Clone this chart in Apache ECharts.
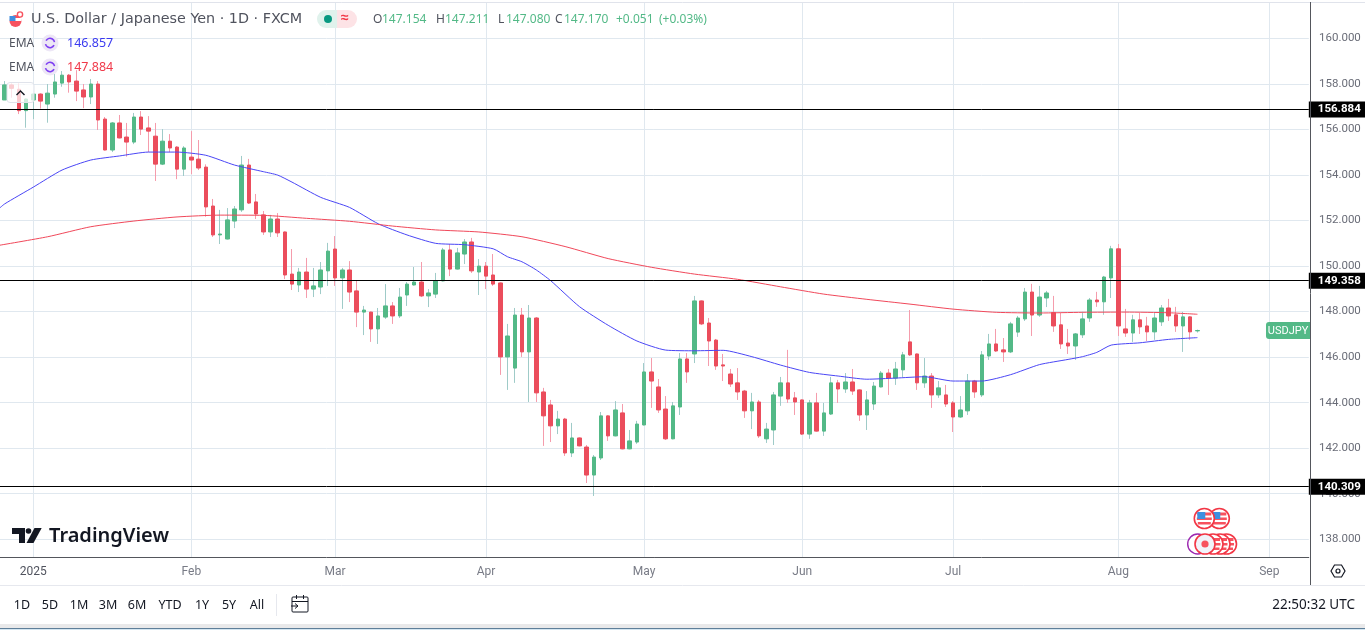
<!DOCTYPE html>
<html><head><meta charset="utf-8">
<style>html,body{margin:0;padding:0;background:#fff}#c{width:1365px;height:630px}</style>
<script src="https://cdn.jsdelivr.net/npm/echarts@6/dist/echarts.min.js"></script>
</head><body><div id="c"></div>
<script>
const categories = ['12-25','12-26','12-27','12-30','12-31',
'01-02','01-03','01-06','01-07','01-08','01-09','01-10','01-13','01-14','01-15','01-16','01-17','01-20','01-21','01-22','01-23','01-24','01-27','01-28','01-29','01-30','01-31',
'02-03','02-04','02-05','02-06','02-07','02-10','02-11','02-12','02-13','02-14','02-17','02-18','02-19','02-20','02-21','02-24','02-25','02-26','02-27','02-28',
'03-03','03-04','03-05','03-06','03-07','03-10','03-11','03-12','03-13','03-14','03-17','03-18','03-19','03-20','03-21','03-24','03-25','03-26','03-27','03-28','03-31',
'04-01','04-02','04-03','04-04','04-07','04-08','04-09','04-10','04-11','04-14','04-15','04-16','04-17','04-18','04-21','04-22','04-23','04-24','04-25','04-28','04-29','04-30',
'05-01','05-02','05-05','05-06','05-07','05-08','05-09','05-12','05-13','05-14','05-15','05-16','05-19','05-20','05-21','05-22','05-23','05-26','05-27','05-28','05-29','05-30',
'06-02','06-03','06-04','06-05','06-06','06-09','06-10','06-11','06-12','06-13','06-16','06-17','06-18','06-19','06-20','06-23','06-24','06-25','06-26','06-27','06-30',
'07-01','07-02','07-03','07-04','07-07','07-08','07-09','07-10','07-11','07-14','07-15','07-16','07-17','07-18','07-21','07-22','07-23','07-24','07-25','07-28','07-29','07-30','07-31',
'08-01','08-04','08-05','08-06','08-07','08-08','08-11','08-12','08-13','08-14','08-15','08-18','08-19','08-20','08-21','08-22','08-25','08-26','08-27','08-28','08-29',
'09-01','09-02','09-03','09-04','09-05','09-08'];
const monthTicks = {'01-02':'2025','02-03':'Feb','03-03':'Mar','04-01':'Apr','05-01':'May','06-02':'Jun','07-01':'Jul','08-01':'Aug','09-01':'Sep'};
const priceTicks = [138,140,142,144,146,148,150,152,154,156,158,160];
const levels = [156.884,149.358,140.309];

const opens = [157.30,157.96,157.77,156.83,157.30,157.56,157.12,157.56,158.04,158.39,
158.13,157.74,157.43,158.00,156.46,155.10,156.29,155.67,155.45,156.55,
156.07,155.71,154.48,155.49,155.23,154.26,154.79,154.70,154.35,152.64,
151.37,151.19,151.98,152.47,154.44,152.82,152.25,151.50,152.07,151.50,
149.65,149.17,149.74,148.99,149.08,149.79,150.75,149.48,149.83,148.91,
147.98,147.98,147.24,147.76,148.25,147.81,148.73,149.17,149.30,148.69,
148.77,149.35,150.71,149.87,150.53,151.06,149.74,150.00,149.61,149.26,
146.01,145.52,147.85,146.23,147.72,144.47,143.90,142.98,143.28,141.79,
142.45,142.05,140.82,141.57,143.42,142.54,143.55,141.97,142.27,143.02,
145.35,144.69,143.72,142.41,143.81,145.92,146.14,148.47,147.50,146.75,
145.66,145.26,144.87,144.51,143.64,144.03,142.41,142.80,144.29,144.87,
144.21,144.12,142.62,143.99,142.75,143.50,144.87,144.60,144.91,144.56,
143.46,143.94,144.69,145.30,145.08,145.44,146.67,146.14,144.87,145.17,
144.34,144.34,143.99,143.37,143.64,144.95,144.34,146.05,146.58,146.32,
146.23,147.10,147.68,148.86,147.85,148.60,147.96,147.42,146.62,146.49,
146.98,147.72,148.51,148.43,149.48,150.76,147.24,147.06,147.64,147.37,
147.11,147.55,148.16,147.86,147.37,147.77,147.154];
const closes = [157.96,157.81,156.83,157.34,157.56,157.25,157.60,158.09,158.39,158.09,
157.69,157.43,158.00,156.42,155.10,156.29,155.63,155.45,156.55,156.02,
155.93,154.48,155.49,155.19,154.26,155.19,154.66,154.31,152.60,151.37,
151.41,152.03,152.51,154.44,152.77,152.29,151.50,152.07,151.46,149.61,
149.21,149.74,148.99,149.13,149.83,150.66,149.48,149.83,148.86,147.98,
148.07,147.24,147.81,148.25,147.81,148.64,149.21,149.30,148.69,148.82,
149.35,150.71,149.87,150.58,151.06,149.79,150.00,149.56,149.21,146.01,
146.93,147.85,146.23,147.72,144.43,143.42,142.98,143.28,141.79,142.45,
142.10,140.82,141.61,143.42,142.54,143.68,141.97,142.32,143.06,145.35,
144.95,143.68,142.41,143.86,145.92,145.35,148.47,147.46,146.71,145.61,
145.61,144.82,144.47,143.64,144.03,142.54,142.84,144.34,144.87,144.16,
144.03,142.62,143.99,142.75,143.55,144.87,144.60,144.91,144.51,143.46,
144.12,144.73,145.30,145.08,145.48,146.10,146.10,144.87,145.17,144.34,
144.65,143.94,143.37,143.68,144.95,144.47,146.10,146.58,146.27,146.23,
147.46,147.72,148.86,147.85,148.64,148.82,147.37,146.58,146.49,147.02,
147.68,148.51,148.43,149.52,150.76,147.37,147.06,147.64,147.33,147.11,
147.72,148.16,147.81,147.37,147.77,147.11,147.170];
const lows = [157.30,157.40,156.68,156.08,156.46,156.92,156.30,157.40,157.88,157.62,
157.25,156.94,157.12,155.98,155.08,155.01,155.61,154.81,155.36,155.76,
155.01,153.74,154.44,155.01,153.82,153.96,154.04,154.22,152.17,151.28,
150.97,151.17,151.67,152.38,152.73,152.07,151.37,151.28,151.28,149.43,
148.95,148.86,148.60,148.64,148.77,149.13,149.13,148.12,148.42,147.32,
146.97,146.67,146.58,147.68,147.46,147.72,148.25,149.15,148.64,148.20,
148.60,149.33,149.56,149.85,150.09,149.70,148.73,148.99,149.13,145.22,
144.56,144.87,146.01,144.03,144.03,142.10,142.27,142.62,141.66,141.61,
142.08,140.47,139.90,141.48,142.32,142.52,141.95,141.95,142.19,143.00,
143.77,143.55,142.36,142.39,143.46,144.87,145.74,147.41,145.61,145.44,
144.95,144.69,144.12,143.33,142.84,142.45,142.23,142.14,143.86,143.99,
143.46,142.58,142.41,142.73,142.54,143.46,143.99,144.43,144.34,143.20,
142.80,143.68,144.67,144.34,144.78,145.13,146.05,144.56,144.65,143.77,
144.21,143.81,142.71,143.33,143.46,144.21,144.25,145.88,146.23,145.79,
146.18,146.89,147.59,146.93,147.77,148.20,147.11,146.36,146.14,145.88,
146.84,147.55,148.21,147.86,148.60,146.93,146.89,146.67,147.02,146.71,
146.76,147.37,147.59,147.11,146.23,146.76,147.080];
const highs = [158.13,158.03,158.03,157.36,157.58,157.59,158.00,158.44,158.57,158.44,
158.61,158.00,158.22,158.13,156.55,156.33,156.64,156.29,156.73,156.81,
156.59,156.29,156.02,155.80,155.27,155.27,155.93,155.54,154.47,152.95,
152.47,152.55,152.64,154.84,154.71,153.17,152.42,152.25,152.33,151.52,
150.75,149.92,150.36,149.92,150.18,151.02,151.32,149.92,150.22,149.35,
148.25,148.00,148.16,149.21,148.42,149.04,149.30,149.96,150.18,148.99,
149.70,150.80,150.97,150.80,151.19,151.24,150.31,150.18,150.53,149.28,
147.46,148.16,148.16,148.29,147.76,144.65,144.12,143.64,143.33,143.11,
142.47,142.14,141.70,143.59,143.44,144.07,143.94,142.80,143.20,145.74,
145.96,145.04,144.29,144.03,146.18,146.18,148.69,148.49,147.72,146.80,
146.14,145.48,145.52,144.56,144.43,144.12,143.11,144.47,145.13,146.32,
144.47,144.14,144.12,144.43,143.99,145.13,145.00,145.30,145.48,144.58,
144.51,144.91,145.39,145.48,145.79,146.23,148.07,146.16,145.96,145.30,
144.95,144.78,144.07,144.29,145.26,145.00,146.27,147.02,147.24,146.84,
147.55,147.81,149.04,149.22,149.13,148.91,148.69,147.94,147.24,147.06,
147.99,148.60,148.87,149.57,150.89,150.97,148.12,147.86,147.94,147.77,
147.94,148.29,148.56,148.21,147.99,147.79,147.211];

const emaFastSlots = [0,1,5,9,13,17,21,25,29,33,37,39,41,45,49,53,57,61,65,69,71,73,75,77,81,85,89,93,97,101,105,109,113,117,121,125,129,133,137,141,145,149,151,153,155,159,163,167];
const emaFastValues = [152.46,152.73,153.47,154.22,154.66,154.84,155.01,155.01,154.87,154.44,154.15,154.00,153.69,153.02,152.58,151.86,151.37,151.00,150.94,150.76,150.41,150.19,149.83,149.36,148.22,147.40,146.71,146.31,146.28,146.30,146.02,145.65,145.33,145.17,145.03,145.08,145.14,144.95,144.95,145.23,145.67,145.90,146.02,146.21,146.53,146.63,146.78,146.857];
const emaSlowSlots = [0,7,13,19,25,31,37,43,49,55,61,67,73,79,85,91,97,103,109,115,121,127,133,139,145,151,157,163,167];
const emaSlowValues = [150.90,151.29,151.73,151.98,152.16,152.24,152.23,152.10,151.97,151.76,151.59,151.50,151.29,150.86,150.33,149.95,149.65,149.42,149.09,148.77,148.54,148.33,148.11,147.97,147.94,147.97,147.98,147.95,147.884];

const UP='#53b987', DOWN='#eb4d5c', UPW='#9fcbc8', DOWNW='#f59cac', GRID='#e0e8ef', AXIS='#54565c';
const FONT='"Noto Sans", sans-serif', AXF='Roboto, sans-serif';
const blank=['-','-','-','-'];
const wickData=[blank].concat(opens.map((o,i)=>[o,closes[i],lows[i],highs[i]]));
const bodyData=[blank].concat(opens.map((o,i)=>[o,closes[i],Math.min(o,closes[i]),Math.max(o,closes[i])]));
const isTick=(i)=>monthTicks[categories[i]]!==undefined;

function t(x,y,text,fill,size,extra){return {type:'text',z:100,x:x,y:y,style:{text:text,fill:fill,font:(extra&&extra.w||'400')+' '+size+'px '+(extra&&extra.f||FONT),textAlign:extra&&extra.a||'left',textVerticalAlign:'middle'}};}
function line(x1,y1,x2,y2,c,w){return {type:'line',z:99,shape:{x1,y1,x2,y2},style:{stroke:c,lineWidth:w||1}};}
function rect(x,y,w,h,fill,r,o){return {type:'rect',z:98,shape:{x,y,width:w,height:h,r:r||0},style:{fill,opacity:o==null?1:o}};}
function flag(cx,cy,z){return [
 {type:'circle',z:z,shape:{cx,cy,r:10},style:{fill:'#fff',stroke:'#f23645',lineWidth:1.6}},
 {type:'rect',z:z,shape:{x:cx-7,y:cy-6,width:14,height:3},style:{fill:'#f7525f'}},
 {type:'rect',z:z,shape:{x:cx-7.5,y:cy-1,width:15,height:2.5},style:{fill:'#f7525f'}},
 {type:'rect',z:z,shape:{x:cx-6.5,y:cy+3.5,width:13,height:2.5},style:{fill:'#f7525f'}},
 {type:'rect',z:z,shape:{x:cx-7,y:cy-6.5,width:8,height:7},style:{fill:'#3d8fe0'}}
];}
function ema(cy){return [
 {type:'circle',z:100,shape:{cx:50,cy,r:8.5},style:{fill:'#ede7f6'}},
 {type:'arc',z:101,shape:{cx:50,cy,r:4.6,startAngle:-2.6,endAngle:-0.2},style:{stroke:'#7e3ff2',fill:'none',lineWidth:1.6}},
 {type:'arc',z:101,shape:{cx:50,cy,r:4.6,startAngle:0.5,endAngle:2.9},style:{stroke:'#7e3ff2',fill:'none',lineWidth:1.6}}
];}

const graphics=[
 line(0,2.5,1365,2.5,'#e0e3eb',1),
 line(1310.5,2,1310.5,585,AXIS,1),
 line(0,585.5,1365,585.5,'#e6e8ee',1),
 rect(0,624,1365,4,'#e9e9ea'),
 rect(0,628,1365,1,'#5f7f99'),
 rect(0,629,1365,1,'#d4e6f1'),
 line(276.5,594,276.5,616,'#e6e8ee',1),
 // header
 {type:'circle',z:100,shape:{cx:15.5,cy:21,r:6},style:{fill:'#f7525f'}},
 {type:'rect',z:101,shape:{x:9.5,y:18,width:12,height:3},style:{fill:'#fff'}},
 {type:'rect',z:101,shape:{x:9.5,y:16,width:6,height:5},style:{fill:'#3d8fe0'}},
 {type:'circle',z:100,shape:{cx:20,cy:14.5,r:2.6},style:{fill:'#fff',stroke:'#f7525f',lineWidth:1.4}},
 t(31,19.5,'U.S. Dollar / Japanese Yen · 1D · FXCM','#50535e',14.35,{f:'"DejaVu Sans", sans-serif'}),
 rect(317,10,20,18,'#e0f2ec',[9,0,0,9]),
 rect(337,10,20,18,'#fde3e6',[0,9,9,0]),
 {type:'circle',z:100,shape:{cx:328,cy:19,r:4},style:{fill:'#089981'}},
 t(341,18.5,'≈','#f23645',14,{w:'700'}),
 t(373,19.5,'O','#50535e',12),t(382,19.5,'147.154',UP,12),
 t(436,19.5,'H','#50535e',12),t(445,19.5,'147.211',UP,12),
 t(498,19.5,'L','#50535e',12),t(506,19.5,'147.080',UP,12),
 t(555,19.5,'C','#50535e',12),t(564,19.5,'147.170',UP,12),
 t(616,19.5,'+0.051','#53b987',12),t(659,19.5,'(+0.03%)','#53b987',12),
 t(9,43.5,'EMA','#50535e',12),t(67,43.5,'146.857','#3a3af0',12.5),
 t(9,67.5,'EMA','#50535e',12),t(67,67.5,'147.884','#f0394a',12.5),
 ...ema(43),...ema(67),
 // collapse button
 {type:'rect',z:98,shape:{x:7,y:82.5,width:27,height:20,r:3},style:{fill:'rgba(255,255,255,0.72)',stroke:'#e0e3eb',lineWidth:1}},
 {type:'polyline',z:100,shape:{points:[[16.5,95],[20.5,91],[24.5,95]]},style:{stroke:'#131722',fill:'none',lineWidth:1.4}},
 // symbol tag
 rect(1266,322,44,17,UP,[3,0,0,3]),
 t(1288,331,'USDJPY','#fff',11,{a:'center',f:AXF}),
 // logo
 {type:'polygon',z:100,shape:{points:[[12,528],[25,528],[25,543],[19,543],[19,534],[12,534]]},style:{fill:'#131722'}},
 {type:'circle',z:100,shape:{cx:28.5,cy:531,r:2.8},style:{fill:'#131722'}},
 {type:'polygon',z:100,shape:{points:[[34.5,528],[41.7,528],[33.5,543],[26.5,543]]},style:{fill:'#131722'}},
 t(49,536,'TradingView','#131722',20,{w:'600'}),
 // event flags
 ...flag(1219.3,518.5,90),...flag(1204.3,518.5,91),
 {type:'circle',z:90,shape:{cx:1197.7,cy:544,r:10},style:{fill:'#fff',stroke:'#9c27b0',lineWidth:1.4}},
 ...flag(1226.5,544,90),...flag(1220,544,91),...flag(1213,544,92),
 {type:'circle',z:93,shape:{cx:1205,cy:544,r:10},style:{fill:'#f0f3fa',stroke:'#f23645',lineWidth:1.6}},
 {type:'circle',z:94,shape:{cx:1205,cy:544,r:3.6},style:{fill:'#f7525f'}},
 // settings hex
 {type:'polygon',z:100,shape:{points:[[1331,571],[1334.5,565],[1341.5,565],[1345,571],[1341.5,577],[1334.5,577]]},style:{fill:'none',stroke:'#131722',lineWidth:1.2}},
 {type:'circle',z:100,shape:{cx:1338,cy:571,r:2},style:{fill:'none',stroke:'#131722',lineWidth:1.2}},
 // toolbar
 ...[['1D',22],['5D',50],['1M',79],['3M',108],['6M',137],['YTD',170],['1Y',202],['5Y',229],['All',257]].map(a=>t(a[1],605,a[0],'#131722',12.5,{a:'center'})),
 {type:'rect',z:100,shape:{x:292,y:597,width:16,height:15,r:1},style:{fill:'none',stroke:'#131722',lineWidth:1}},
 rect(288,604,8,4,'#fff'),
 line(292,601.5,308,601.5,'#131722',1),
 line(296.5,595,296.5,599,'#131722',1),line(303.5,595,303.5,599,'#131722',1),
 {type:'polyline',z:100,shape:{points:[[291,606],[298,606]]},style:{stroke:'#131722',fill:'none',lineWidth:1}},
 {type:'polyline',z:100,shape:{points:[[295,603.5],[298,606],[295,608.5]]},style:{stroke:'#131722',fill:'none',lineWidth:1}},
 t(1355,605,'22:50:32 UTC','#131722',13.5,{a:'right'})
];

const chart=echarts.init(document.getElementById('c'),null,{renderer:'canvas'});
chart.setOption({
 animation:false,backgroundColor:'#fff',
 grid:{left:-6.22,width:1315.03,top:3,height:554,containLabel:false,outerBoundsMode:'none'},
 xAxis:{type:'category',data:categories,boundaryGap:true,
  axisLine:{show:true,onZero:false,lineStyle:{color:AXIS,width:1}},
  axisTick:{show:false,alignWithLabel:true},
  splitLine:{show:true,alignWithLabel:true,interval:(i)=>isTick(i),lineStyle:{color:GRID,width:1}},
  axisLabel:{interval:(i)=>isTick(i),hideOverlap:false,margin:9,color:'#787b86',fontFamily:AXF,fontSize:12,
   formatter:(v)=>monthTicks[v]==='2025'?'{y|2025}':(monthTicks[v]||''),rich:{y:{color:'#50535e',fontFamily:AXF,fontSize:12,fontWeight:400}}}},
 yAxis:{type:'value',position:'right',offset:1.2,min:137.219,max:161.56,scale:true,
  axisLine:{show:false},axisTick:{show:false,customValues:priceTicks},
  splitLine:{show:true,lineStyle:{color:GRID,width:1}},
  axisLabel:{customValues:priceTicks,color:'#6a6d78',fontFamily:AXF,fontSize:11.5,margin:9,padding:[4,0,0,0],formatter:(v)=>v.toFixed(3),showMinLabel:true,showMaxLabel:true}},
 graphic:{elements:graphics},
 series:[
  {type:'candlestick',name:'wicks',data:wickData,barWidth:1,z:3,
   itemStyle:{color:UPW,color0:DOWNW,borderColor:UPW,borderColor0:DOWNW,borderWidth:1}},
  {type:'candlestick',name:'USDJPY',data:bodyData,barWidth:4,z:4,
   itemStyle:{color:UP,color0:DOWN,borderColor:UP,borderColor0:DOWN,borderWidth:1}},
  {type:'line',name:'EMA 50',data:emaFastSlots.map((s,i)=>[s,emaFastValues[i]]),showSymbol:false,smooth:0.2,z:5,
   lineStyle:{color:'#4a46f5',width:1},
   markLine:{silent:true,symbol:'none',animation:false,z:6,data:levels.map(v=>({yAxis:v,name:v.toFixed(3)})),
    lineStyle:{color:'#000',width:1,type:'solid'},
    label:{position:'end',distance:0,formatter:(p)=>p.name,color:'#fff',backgroundColor:'#000',fontFamily:AXF,fontSize:11.5,fontWeight:700,padding:[2,6,2,9]}}},
  {type:'line',name:'EMA 200',data:emaSlowSlots.map((s,i)=>[s,emaSlowValues[i]]),showSymbol:false,smooth:0.2,z:5,
   lineStyle:{color:'#f0485a',width:1}}
 ]
});
</script></body></html>
